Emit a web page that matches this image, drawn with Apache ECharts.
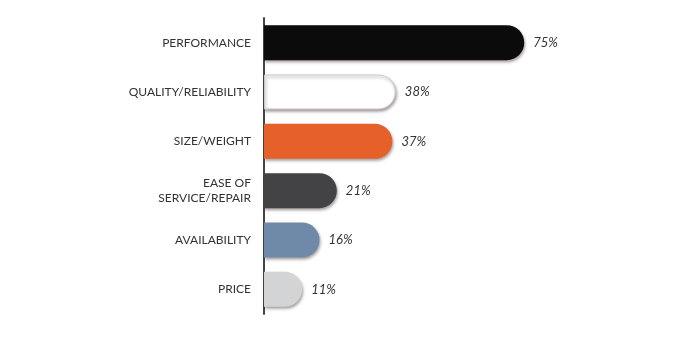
<!DOCTYPE html>
<html>
<head>
<meta charset="utf-8">
<script src="https://cdn.jsdelivr.net/npm/echarts@6/dist/echarts.min.js"></script>
<style>
  html, body { margin: 0; padding: 0; background: #fff; }
  #chart { width: 680px; height: 340px; }
</style>
</head>
<body>
<div id="chart"></div>
<script>
// Purchase factors, top to bottom
const categories = ['PERFORMANCE', 'QUALITY/RELIABILITY', 'SIZE/WEIGHT', 'EASE OF\nSERVICE/REPAIR', 'AVAILABILITY', 'PRICE'];
const values = [75, 38, 37, 21, 16, 11];
const barColors = ['#0b0b0b', '#ffffff', '#e6612a', '#434244', '#6e8aa8', '#d3d4d6'];
const barBorders = ['#0b0b0b', '#c9c9c9', '#e6612a', '#434244', '#6e8aa8', '#d3d4d6'];

const chart = echarts.init(document.getElementById('chart'), null, { renderer: 'canvas' });

chart.setOption({
  animation: false,
  grid: { left: 264, top: 18, width: 347, height: 296, containLabel: false },
  xAxis: {
    type: 'value', min: 0, max: 100,
    show: false
  },
  yAxis: {
    type: 'category',
    inverse: true,
    data: categories,
    axisLine: { show: true, lineStyle: { color: '#444', width: 2 } },
    axisTick: { show: false },
    splitLine: { show: false },
    axisLabel: {
      margin: 13,
      color: '#333',
      fontFamily: 'Lato',
      fontSize: 12,
      lineHeight: 15,
      align: 'right'
    }
  },
  series: [{
    type: 'bar',
    barWidth: 35,
    data: values.map((v, i) => ({
      value: v,
      itemStyle: {
        color: barColors[i],
        borderColor: barBorders[i],
        borderWidth: i === 1 ? 1 : 0
      }
    })),
    itemStyle: {
      borderRadius: [0, 18, 18, 0],
      shadowColor: 'rgba(60,40,40,0.45)',
      shadowBlur: 3,
      shadowOffsetX: 1,
      shadowOffsetY: 2
    },
    label: {
      show: true,
      position: 'right',
      distance: 9,
      formatter: p => p.value + '%',
      color: '#333',
      fontFamily: 'Lato',
      fontStyle: 'italic',
      fontSize: 13
    }
  }]
});
</script>
</body>
</html>
